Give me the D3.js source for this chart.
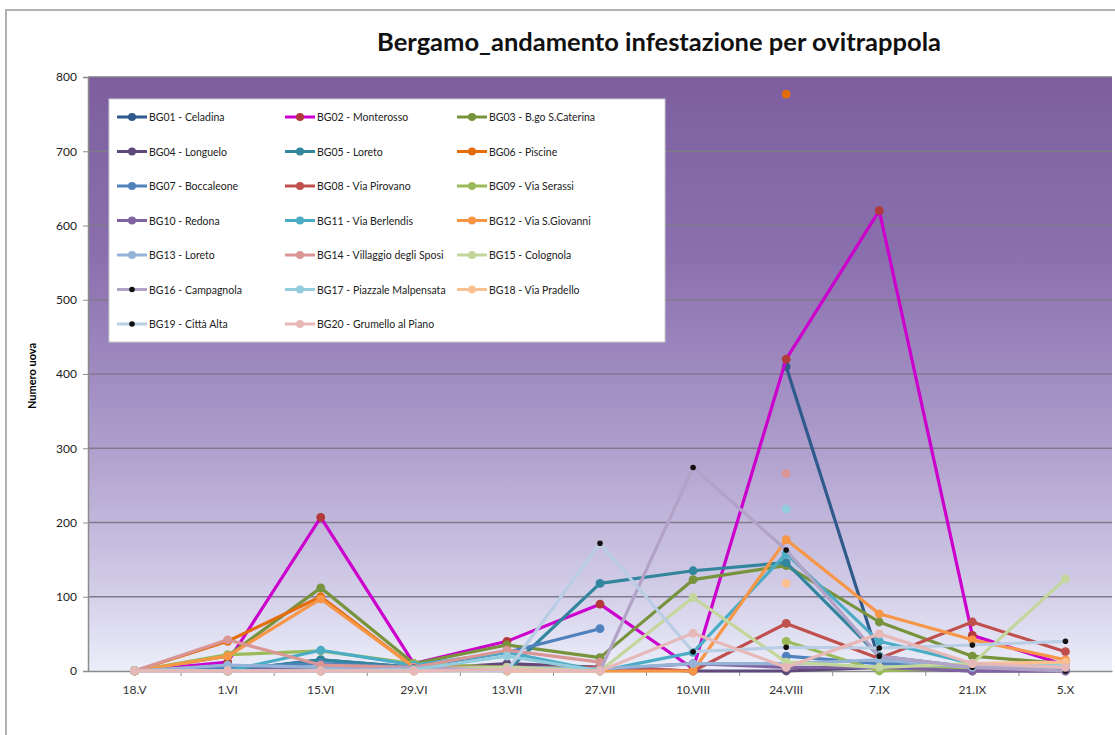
<!DOCTYPE html>
<html>
<head>
<meta charset="utf-8">
<script src="https://cdn.jsdelivr.net/npm/d3@7"></script>
<style>
  body { margin: 0; background: #fff; }
  svg { display: block; font-family: Lato, "Open Sans", sans-serif; }
</style>
</head>
<body>
<div id="chart"></div>
<script>
// sampling dates
const dates = ["18.V", "1.VI", "15.VI", "29.VI", "13.VII", "27.VII", "10.VIII", "24.VIII", "7.IX", "21.IX", "5.X"];

// trap names
const names = [
  "BG01 - Celadina", "BG02 - Monterosso", "BG03 - B.go S.Caterina",
  "BG04 - Longuelo", "BG05 - Loreto", "BG06 - Piscine",
  "BG07 - Boccaleone", "BG08 - Via Pirovano", "BG09 - Via Serassi",
  "BG10 - Redona", "BG11 - Via Berlendis", "BG12 - Via S.Giovanni",
  "BG13 - Loreto", "BG14 - Villaggio degli Sposi", "BG15 - Colognola",
  "BG16 - Campagnola", "BG17 - Piazzale Malpensata", "BG18 - Via Pradello",
  "BG19 - Città Alta", "BG20 - Grumello al Piano"
];

// eggs per trap (null = no reading)
const bg01 = [0, 0, 15, 5, 5, 5, null, 410, 15, 5, 3];
const bg02 = [0, 12, 207, 10, 40, 90, 3, 420, 620, 48, 8];
const bg03 = [0, 20, 112, 10, 35, 18, 123, 142, 66, 20, 10];
const bg04 = [0, 0, 0, 2, 10, 5, 0, 0, 5, 0, 0];
const bg05 = [0, 0, 15, 5, 0, 118, 135, 146, 20, 5, 5];
const bg06 = [0, 40, 100, 5, null, null, null, 777, null, null, null];
const bg07 = [0, 5, 10, 5, 25, 57, null, 20, 10, 5, 5];
const bg08 = [0, 0, 0, 0, 5, 5, 0, 64, 17, 66, 26];
const bg09 = [0, 22, 27, 10, 5, 3, null, 40, 0, 5, 5];
const bg10 = [0, 0, 5, 5, 5, 2, 10, 5, 5, 0, 0];
const bg11 = [0, 0, 28, 8, 25, 0, 25, 158, 40, 10, 10];
const bg12 = [0, 20, 97, 5, 5, 0, 0, 177, 77, 42, 15];
const bg13 = [0, 8, 5, 3, 5, 3, 10, 10, 15, 5, 5];
const bg14 = [0, 42, 8, 5, 28, 12, null, 266, null, 10, 10];
const bg15 = [0, 0, 0, 2, 5, 0, 99, 12, 5, 10, 124];
const bg16 = [0, 0, 0, 5, 0, 0, 274, 163, 20, 5, 0];
const bg17 = [0, 0, 0, 2, 20, 0, null, 218, null, 10, 8];
const bg18 = [0, 0, 0, 0, 0, 0, null, 118, null, 10, 12];
const bg19 = [0, 0, 0, 0, 0, 172, 26, 32, 31, 35, 40];
const bg20 = [0, 0, 0, 0, 2, 0, 51, 5, 50, 10, 5];

const yTicks = [0, 100, 200, 300, 400, 500, 600, 700, 800];

const lineColors = ["#2f5a8c", "#cc00cc", "#77933c", "#5f497a", "#31859c", "#e46c0a",
  "#4f81bd", "#c0504d", "#9bbb59", "#8064a2", "#4bacc6", "#f79646",
  "#95b3d7", "#d99694", "#c3d69b", "#b3a2c7", "#93cddd", "#fac090",
  "#b9cde5", "#e6b9b8"];
const markerColors = lineColors.slice();
markerColors[1] = "#b23a3a";
markerColors[15] = "#111";
markerColors[18] = "#111";

const values = [bg01, bg02, bg03, bg04, bg05, bg06, bg07, bg08, bg09, bg10,
  bg11, bg12, bg13, bg14, bg15, bg16, bg17, bg18, bg19, bg20];
const series = names.map((name, i) => ({
  name, color: lineColors[i], marker: markerColors[i],
  small: i === 15 || i === 18,
  points: values[i].map((v, j) => ({date: dates[j], v}))
}));

const width = 1115, height = 735;
const plot = {left: 88, right: 1112, top: 77, bottom: 671};

const svg = d3.select("#chart").append("svg")
  .attr("width", width).attr("height", height);

// outer frame
svg.append("rect")
  .attr("x", 6).attr("y", 10).attr("width", 1130).attr("height", 760)
  .attr("fill", "none").attr("stroke", "#9a9a9a").attr("stroke-width", 1.5);

const grad = svg.append("defs").append("linearGradient")
  .attr("id", "bg").attr("x1", 0).attr("x2", 0).attr("y1", 0).attr("y2", 1);
[[0, "#7d5f9f"], [0.3, "#8a6fae"], [0.6, "#ab9aca"], [0.85, "#d0cae6"], [1, "#eceefa"]]
  .forEach(([o, c]) => grad.append("stop").attr("offset", o).attr("stop-color", c));

const x = d3.scaleBand().domain(dates).range([plot.left, plot.right]);
const cx = d => x(d) + x.bandwidth() / 2;
const y = d3.scaleLinear().domain([0, 800]).range([plot.bottom, plot.top]);

svg.append("rect")
  .attr("x", plot.left).attr("y", plot.top)
  .attr("width", plot.right - plot.left).attr("height", plot.bottom - plot.top)
  .attr("fill", "url(#bg)");

// gridlines
svg.append("g").selectAll("line").data(yTicks.slice(1)).join("line")
  .attr("x1", plot.left).attr("x2", plot.right)
  .attr("y1", d => y(d)).attr("y2", d => y(d))
  .attr("stroke", "#817a8c").attr("stroke-width", 1.5);

// y axis
const yAxis = svg.append("g")
  .attr("transform", `translate(${plot.left},0)`)
  .call(d3.axisLeft(y).tickValues(yTicks).tickSize(5).tickPadding(6));
yAxis.select(".domain").attr("stroke", "#8c8c8c").attr("stroke-width", 1.5);
yAxis.selectAll(".tick line").attr("stroke", "#8c8c8c");
yAxis.selectAll("text").attr("font-size", 12).attr("fill", "#222")
  .attr("font-family", "Lato, sans-serif");

// x axis
const xAxis = svg.append("g")
  .attr("transform", `translate(0,${plot.bottom})`)
  .call(d3.axisBottom(x).tickSize(0).tickPadding(14));
xAxis.select(".domain").attr("stroke", "#8c8c8c").attr("stroke-width", 1.5);
xAxis.selectAll("text").attr("font-size", 12).attr("fill", "#333")
  .attr("font-family", "Lato, sans-serif");
svg.append("g").selectAll("line").data(dates.slice(1)).join("line")
  .attr("x1", d => x(d)).attr("x2", d => x(d))
  .attr("y1", plot.bottom).attr("y2", plot.bottom + 5)
  .attr("stroke", "#8c8c8c");

svg.append("text")
  .attr("transform", `translate(36,${(plot.top + plot.bottom) / 2 + 2}) rotate(-90)`)
  .attr("text-anchor", "middle").attr("font-size", 11).attr("font-weight", "bold")
  .text("Numero uova");

svg.append("text")
  .attr("x", 659).attr("y", 51).attr("text-anchor", "middle")
  .attr("font-size", 25.5).attr("font-weight", "bold").attr("fill", "#111")
  .text("Bergamo_andamento infestazione per ovitrappola");

// series
const line = d3.line()
  .defined(d => d.v !== null)
  .x(d => cx(d.date)).y(d => y(d.v));

const g = svg.append("g");
series.forEach(s => {
  g.append("path").datum(s.points)
    .attr("d", line).attr("fill", "none")
    .attr("stroke", s.color).attr("stroke-width", 3.2)
    .attr("stroke-linejoin", "round");
  g.selectAll(null).data(s.points.filter(p => p.v !== null)).join("circle")
    .attr("cx", d => cx(d.date)).attr("cy", d => y(d.v))
    .attr("r", s.small ? 2.8 : 4.4)
    .attr("fill", s.marker);
});

// legend
const legend = svg.append("g");
legend.append("rect")
  .attr("x", 109).attr("y", 99).attr("width", 556).attr("height", 243)
  .attr("fill", "#fff").attr("stroke", "#ccc");
const colX = [117, 285, 457];
const item = legend.selectAll("g.item").data(series).join("g")
  .attr("class", "item")
  .attr("transform", (d, i) => `translate(${colX[i % 3]},${117 + Math.floor(i / 3) * 34.5})`);
item.append("line").attr("x1", 0).attr("x2", 30)
  .attr("stroke", d => d.color).attr("stroke-width", 3);
item.append("circle").attr("cx", 15).attr("r", d => d.small ? 2.8 : 4)
  .attr("fill", d => d.marker);
item.append("text").attr("x", 32).attr("y", 4)
  .attr("font-size", 10.5).attr("fill", "#222")
  .text(d => d.name);
</script>
</body>
</html>
